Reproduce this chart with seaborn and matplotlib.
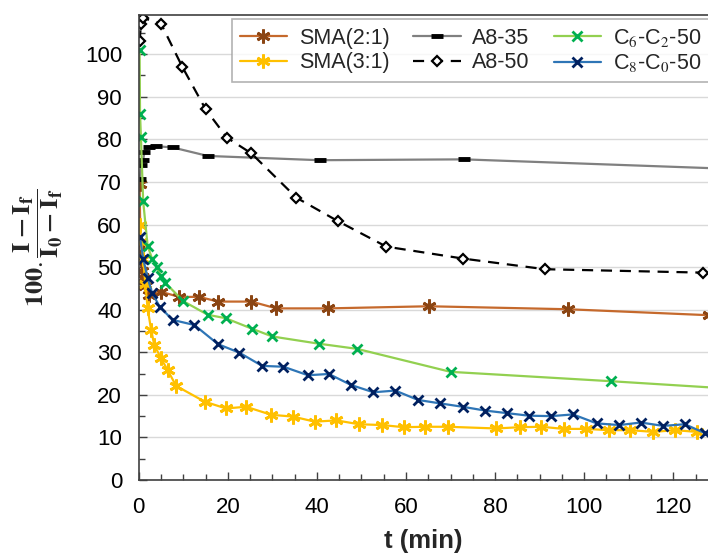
import pandas as pd
import seaborn as sns
import matplotlib.pyplot as plt
from matplotlib.ticker import MultipleLocator

# valores: t (min) e 100*(I-If)/(I0-If)
sma21_t = [0.2, 0.4, 0.6, 0.8, 1.0, 1.5, 2.4, 5.0, 9.1, 13.6, 17.8, 25.3, 30.9, 42.5, 65.1, 96.4, 128.0]
sma21_v = [69.5, 55, 52, 49, 47.5, 45.5, 43.4, 44.2, 43.0, 43.0, 41.9, 41.9, 40.3, 40.3, 40.8, 40.1, 38.7]

sma31_t = [0.2, 0.5, 1.0, 1.5, 2.0, 2.8, 3.5, 5.0, 6.5, 8.4, 14.8, 19.6, 24.1, 29.8, 34.6, 39.5, 44.4,
           49.4, 54.7, 59.5, 64.2, 69.4, 80.3, 85.5, 90.4, 95.4, 100.5, 105.5, 110.4, 115.5, 120.4, 125.3]
sma31_v = [60, 56, 52, 46, 40.3, 35.2, 31.7, 28.6, 25.8, 22.1, 18.4, 16.8, 17.2, 15.3, 14.9, 13.7, 14.0,
           13.1, 12.9, 12.4, 12.5, 12.5, 12.1, 12.4, 12.5, 12.0, 12.0, 11.7, 11.7, 11.3, 11.7, 11.3]

a835_t = [0.2, 0.6, 1.0, 1.3, 2.4, 3.9, 7.6, 15.5, 40.6, 73.0, 140.0]
a835_v = [70.6, 73.9, 75.1, 77.1, 78.1, 78.4, 78.1, 76.1, 75.1, 75.3, 72.8]

a850_t = [0.2, 0.5, 1.0, 5.0, 9.8, 15.0, 19.8, 25.3, 35.4, 44.7, 55.6, 72.8, 91.2, 126.6]
a850_v = [103, 107, 108.5, 107.2, 97.0, 87.1, 80.4, 76.7, 66.3, 60.8, 54.8, 52.0, 49.5, 48.7]

c6c2_t = [0.2, 0.3, 0.5, 1.0, 2.0, 3.0, 4.0, 5.0, 6.0, 10.0, 15.5, 19.5, 25.5, 30.0, 40.5, 49.0, 70.0, 106.0, 132.0]
c6c2_v = [101, 86, 80.5, 65.5, 55, 52, 50, 48, 46.3, 42, 38.8, 38, 35.5, 33.7, 32, 30.8, 25.4, 23.2, 21.5]

c8c0_t = [0.3, 1.0, 2.0, 3.0, 4.7, 7.6, 12.5, 17.8, 22.6, 27.7, 32.5, 38.0, 42.7, 47.7, 52.7, 57.6, 62.7,
          67.6, 72.7, 77.8, 82.7, 87.6, 92.6, 97.5, 102.8, 107.9, 112.7, 117.8, 122.6, 127.1]
c8c0_v = [57, 52, 47.5, 44, 40.7, 37.6, 36.4, 31.9, 29.9, 26.8, 26.6, 24.6, 24.9, 22.3, 20.6, 21.0, 18.8,
          18.0, 17.2, 16.3, 15.7, 15.1, 15.0, 15.4, 13.3, 12.9, 13.5, 12.7, 13.1, 11.0]

sns.set_style('ticks')
plt.rcParams['font.family'] = ['Liberation Sans', 'DejaVu Sans']
plt.rcParams['mathtext.fontset'] = 'stix'

fig = plt.figure(figsize=(7.08, 5.55), dpi=100)
ax = fig.add_axes([138.7 / 708, 75 / 555, 1 - 138.7 / 708, 465 / 555])

asterisco = (6, 2, 0)
series = [
    ('SMA(2:1)', sma21_t, sma21_v, dict(color='#C5692C', marker=asterisco, ms=10, mew=2.0,
                                        mec='#8B4513', mfc='#8B4513', lw=1.6)),
    ('SMA(3:1)', sma31_t, sma31_v, dict(color='#FFC000', marker=asterisco, ms=10, mew=2.0,
                                        mec='#FFC000', mfc='#FFC000', lw=1.6)),
    ('A8-35', a835_t, a835_v, dict(color='#808080', marker='_', ms=9, mew=3.5,
                                   mec='black', mfc='black', lw=1.6)),
    ('A8-50', a850_t, a850_v, dict(color='black', marker='D', ms=5.5, mew=1.6,
                                   mec='black', mfc='white', lw=1.6, dashes=(5, 3.5))),
    ('C$_6$-C$_2$-50', c6c2_t, c6c2_v, dict(color='#92D050', marker='x', ms=7.5, mew=2.0,
                                            mec='#00B050', mfc='#00B050', lw=1.6)),
    ('C$_8$-C$_0$-50', c8c0_t, c8c0_v, dict(color='#2E75B6', marker='x', ms=7.5, mew=2.0,
                                            mec='#002060', mfc='#002060', lw=1.6)),
]

for nome, t, v, estilo in series:
    df = pd.DataFrame({'t': t, 'v': v})
    sns.lineplot(data=df, x='t', y='v', ax=ax, sort=False, estimator=None, label=nome, **estilo)

ax.set_xlim(0, 127.8)
ax.set_ylim(0, 109.2)
ax.xaxis.set_major_locator(MultipleLocator(20))
ax.xaxis.set_minor_locator(MultipleLocator(5))
ax.yaxis.set_major_locator(MultipleLocator(10))
ax.yaxis.set_minor_locator(MultipleLocator(5))
ax.tick_params(which='both', direction='in', colors='#404040', labelcolor='black', labelsize=16)
ax.tick_params(which='major', length=6, width=1)
ax.tick_params(which='minor', length=4, width=1)
ax.tick_params(axis='x', pad=12)
ax.tick_params(axis='y', pad=12)
ax.grid(axis='y', color='#D9D9D9', lw=1)
ax.grid(axis='x', visible=False)
ax.spines['right'].set_visible(False)
for s in ['left', 'bottom', 'top']:
    ax.spines[s].set_color('#404040')
    ax.spines[s].set_linewidth(1.2)

ax.set_xlabel('t (min)', fontsize=18.5, fontweight='bold', labelpad=8)
ax.set_ylabel(r'$\mathbf{100}.\dfrac{\mathbf{I-I_f}}{\mathbf{I_0-I_f}}$', fontsize=19, labelpad=14)

leg = ax.legend(ncol=3, loc='upper left', bbox_to_anchor=(232 / 708, 1 - 19.3 / 555),
                bbox_transform=fig.transFigure, fontsize=15.5, frameon=True, fancybox=False,
                handlelength=2.2, handletextpad=0.55, columnspacing=1.1, borderpad=0.35,
                labelspacing=0.15, borderaxespad=0)
leg.get_frame().set_edgecolor('#A0A0A0')
leg.get_frame().set_linewidth(1.2)

fig.savefig('out.png', dpi=100)
